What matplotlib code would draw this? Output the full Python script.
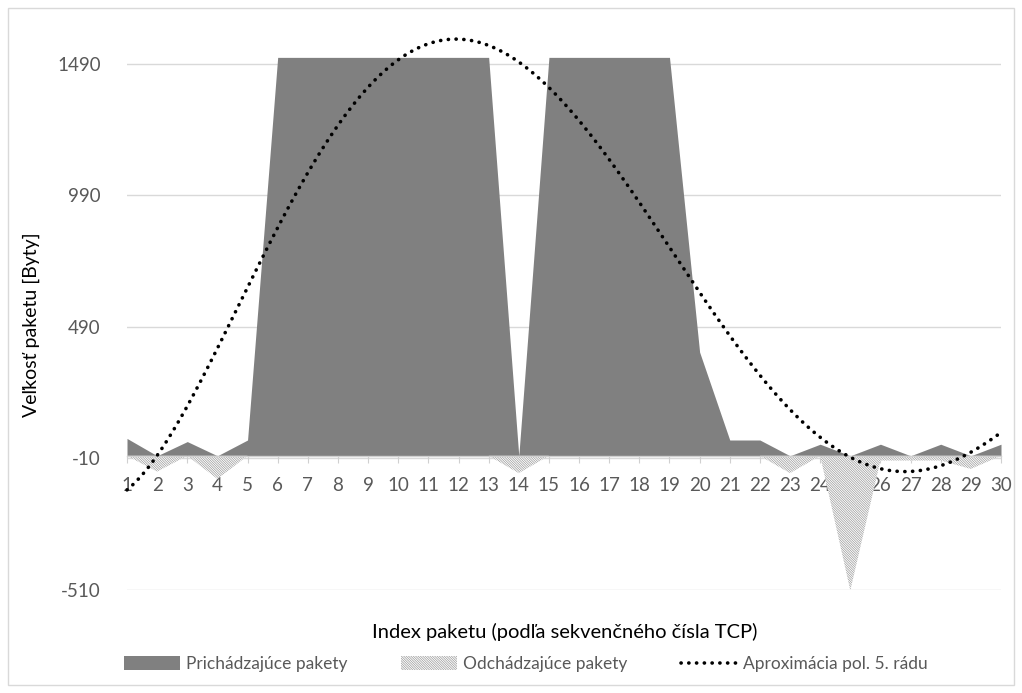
import numpy as np
import matplotlib
matplotlib.use("Agg")
import matplotlib.pyplot as plt
from matplotlib.lines import Line2D
from matplotlib.patches import Patch, Rectangle

plt.rcParams['font.family'] = ['Lato', 'DejaVu Sans']
plt.rcParams['hatch.color'] = '#9a9a9a'
plt.rcParams['hatch.linewidth'] = 0.5

# ---- data ----
packet_index = list(range(1, 31))
incoming = [66, 0, 54, 0, 60,
            1514, 1514, 1514, 1514, 1514, 1514, 1514, 1514,
            0,
            1514, 1514, 1514, 1514, 1514,
            394, 60, 60, 0, 44, 0, 44, 0, 44, 0, 44]
outgoing = [0, -60, 0, -88, 0,
            0, 0, 0, 0, 0, 0, 0, 0,
            -66,
            0, 0, 0, 0, 0,
            0, 0, 0, -66, 0, -512, -18, -18, -18, -50, 0]
y_ticks = [-510, -10, 490, 990, 1490]
labels = ["Prichádzajúce pakety", "Odchádzajúce pakety", "Aproximácia pol. 5. rádu"]

x = np.array(packet_index)
inc = np.array(incoming, dtype=float)
out = np.array(outgoing, dtype=float)

W, H = 1022, 693
fig = plt.figure(figsize=(W / 100, H / 100), dpi=100)
ax_left, ax_right = 127 / W, 1001 / W
y_bottom_px, y_top_px = 590, 30
ax = fig.add_axes([ax_left, 1 - y_bottom_px / H, ax_right - ax_left, (y_bottom_px - y_top_px) / H])

gray = '#808080'
hatch = '\\' * 14
ax.fill_between(x, 0, inc, color=gray, lw=0, zorder=2)
ax.fill_between(x, 0, out, facecolor='white', edgecolor='#9a9a9a', hatch=hatch, lw=0, zorder=2)

coef = np.polyfit(x, inc, 5)
xs = np.linspace(1, 30, 400)
ax.plot(xs, np.polyval(coef, xs), color='black', lw=2.6,
        linestyle=(0, (0.05, 2.1)), dash_capstyle='round', zorder=4, clip_on=False)

ax.set_xlim(1, 30)
ax.set_ylim(-510, 1618)
ax.set_yticks(y_ticks)
ax.set_yticklabels([str(v) for v in y_ticks])
for v in y_ticks:
    ax.axhline(v, color='#d9d9d9', lw=1.0, zorder=1)

for s in ['top', 'right', 'left']:
    ax.spines[s].set_visible(False)
ax.spines['bottom'].set_position(('data', 0))
ax.spines['bottom'].set_color('#d0d0d0')
ax.spines['bottom'].set_linewidth(1.0)
ax.spines['bottom'].set_zorder(3)
ax.set_xticks(packet_index)
ax.set_xticklabels([str(i) for i in packet_index])
ax.tick_params(axis='x', length=5, color='#d0d0d0', direction='out', pad=10,
               labelsize=13.5, labelcolor='#595959')
ax.tick_params(axis='y', length=0, pad=19, labelsize=13.5, labelcolor='#595959')

fig.text(31 / W, 1 - 325 / H, "Veľkosť paketu [Byty]", rotation=90, ha='center', va='center',
         fontsize=14, color='black')
fig.text(565 / W, 1 - 632 / H, "Index paketu (podľa sekvenčného čísla TCP)", ha='center', va='center',
         fontsize=14.5, color='black')

handles = [Patch(facecolor=gray, edgecolor='none'),
           Patch(facecolor='white', edgecolor='#9a9a9a', hatch=hatch, lw=0),
           Line2D([0], [0], color='black', lw=2.6, linestyle=(0, (0.05, 2.1)), dash_capstyle='round')]
leg = fig.legend(handles, labels, loc='center', bbox_to_anchor=(526 / W, 1 - 664 / H), ncol=3,
                 frameon=False, fontsize=12.5, handlelength=3.2, handleheight=0.9,
                 columnspacing=3.1, handletextpad=0.35, labelcolor='#595959')

fig.patches.append(Rectangle((8 / W, 1 - 685 / H), 1006 / W, 677 / H, transform=fig.transFigure,
                             fill=False, edgecolor='#d9d9d9', lw=1.0))

fig.savefig('out.png', dpi=100, facecolor='white')
